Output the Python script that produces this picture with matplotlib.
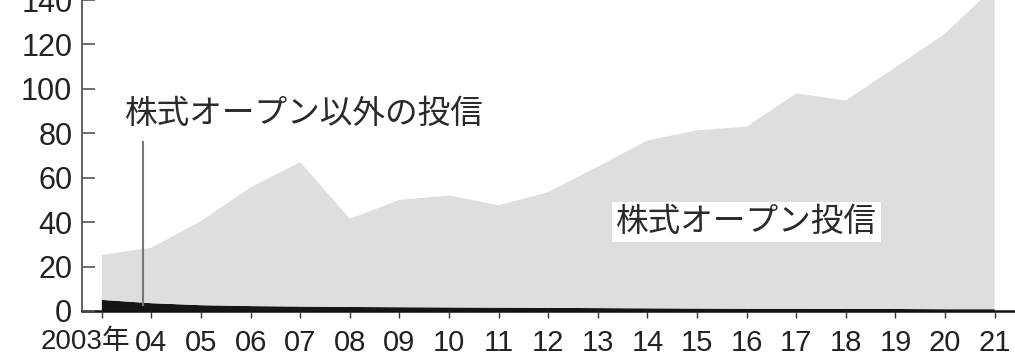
import matplotlib
matplotlib.use("Agg")
import matplotlib.pyplot as plt
from matplotlib import font_manager
from matplotlib.transforms import ScaledTranslation

# pick a narrow latin face if there is one
names = {f.name for f in font_manager.fontManager.ttflist}
narrow = 'DejaVu Sans'
for cand in ['Liberation Sans Narrow', 'DejaVu Sans Condensed', 'Liberation Sans']:
    if cand in names:
        narrow = cand
        break
jp = 'Noto Sans CJK JP'

years = list(range(2003, 2022))
year_labels = ['2003年'] + [f'{y % 100:02d}' for y in years[1:]]

# 株式オープン以外の投信 (black, bottom layer), 兆円
other_funds = [5.0, 3.5, 2.6, 2.2, 2.0, 1.8, 1.7, 1.6, 1.5, 1.4, 1.3,
               1.2, 1.1, 1.0, 1.0, 0.9, 0.9, 0.8, 0.8]
# 株式オープン投信 (gray, on top)
open_funds = [20.2, 25.0, 37.9, 53.5, 65.0, 39.7, 48.3, 50.4, 46.1, 52.1, 63.7,
              75.6, 80.2, 82.0, 96.9, 93.9, 108.8, 124.1, 145.2]

yticks = [0, 20, 40, 60, 80, 100, 120, 140]

fig = plt.figure(figsize=(10.15, 3.55), dpi=100)
ax = fig.add_axes([0.0808, 0.124, 0.9192, 0.876])

ax.stackplot(years, other_funds, open_funds,
             colors=['#161616', '#dedede'], linewidth=0)

ax.set_xlim(2002.6, 2021.41)
ax.set_ylim(0, 140)

ax.spines['top'].set_visible(False)
ax.spines['right'].set_visible(False)
ax.spines['left'].set_color('#555555')
ax.spines['left'].set_linewidth(1.3)
ax.spines['bottom'].set_color('#111111')
ax.spines['bottom'].set_linewidth(1.8)
ax.set_axisbelow(False)

ax.set_yticks(yticks)
ax.set_yticklabels([str(v) for v in yticks])
ax.tick_params(axis='y', direction='in', length=9, width=1.2, color='#555555',
               pad=7, labelcolor='#222222', labelsize=22)
ax.set_xticks(years)
ax.set_xticklabels(year_labels)
ax.tick_params(axis='x', direction='out', length=5, width=1.0, color='#333333',
               pad=8, labelcolor='#222222', labelsize=21)

for lab in ax.get_xticklabels() + ax.get_yticklabels():
    lab.set_fontfamily([narrow, jp])

# first label "2003年" sits a bit left of its tick
first = ax.get_xticklabels()[0]
first.set_fontsize(20)
first.set_transform(first.get_transform() +
                    ScaledTranslation(-16 / 100, 0, fig.dpi_scale_trans))

# labels
ax.text(2003.46, 88.5, '株式オープン以外の投信', family=jp, fontsize=23.5,
        color='#2a2a2a', ha='left', va='center')
ax.plot([2003.83, 2003.83], [2.8, 76], color='#777777', lw=1.5)

ax.text(2016.0, 40, '株式オープン投信', family=jp, fontsize=23.5,
        color='#2a2a2a', ha='center', va='center',
        bbox=dict(facecolor='white', edgecolor='none', pad=3))

fig.savefig('out.png', dpi=100)
